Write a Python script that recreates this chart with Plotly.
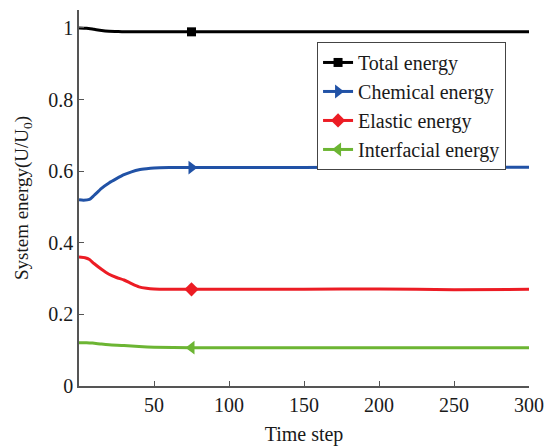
import plotly.graph_objects as go

# ---- data ----
total_x = [0, 5, 10, 15, 20, 25, 30, 40, 50, 75, 100, 150, 200, 250, 300]
total_y = [1.0, 0.999, 0.996, 0.993, 0.991, 0.990, 0.989, 0.989, 0.989, 0.989, 0.989, 0.989, 0.989, 0.989, 0.989]

chem_x = [0, 3, 7, 10, 15, 20, 25, 30, 35, 40, 45, 50, 60, 75, 100, 150, 200, 250, 275, 300]
chem_y = [0.52, 0.519, 0.521, 0.532, 0.552, 0.567, 0.579, 0.590, 0.598, 0.604, 0.607, 0.609, 0.610, 0.610,
          0.610, 0.610, 0.611, 0.609, 0.611, 0.611]

elas_x = [0, 4, 7, 10, 15, 20, 25, 30, 35, 40, 45, 50, 60, 75, 100, 150, 200, 250, 300]
elas_y = [0.36, 0.358, 0.353, 0.342, 0.326, 0.312, 0.303, 0.296, 0.286, 0.277, 0.273, 0.271, 0.270, 0.270,
          0.270, 0.270, 0.271, 0.269, 0.270]

intf_x = [0, 5, 9, 15, 20, 30, 40, 50, 75, 100, 150, 200, 250, 300]
intf_y = [0.121, 0.121, 0.120, 0.117, 0.115, 0.113, 0.110, 0.108, 0.107, 0.107, 0.107, 0.107, 0.107, 0.107]

names = ["Total energy", "Chemical energy", "Elastic energy", "Interfacial energy"]
marker_step = 75
x_ticks = [50, 100, 150, 200, 250, 300]
y_ticks = [0, 0.2, 0.4, 0.6, 0.8, 1]
y_tick_text = ["0", "0.2", "0.4", "0.6", "0.8", "1"]

series = [
    (total_x, total_y, "#000000", "square", 9),
    (chem_x, chem_y, "#2152a6", "triangle-right", 12),
    (elas_x, elas_y, "#ec1c24", "diamond", 11),
    (intf_x, intf_y, "#6cb533", "triangle-left", 12),
]

fig = go.Figure()
for name, (xs, ys, color, sym, ms) in zip(names, series):
    fig.add_trace(go.Scatter(x=xs, y=ys, mode="lines", line=dict(color=color, width=3, shape="spline", smoothing=0.6),
                             showlegend=False, hoverinfo="skip"))
    i = xs.index(marker_step)
    fig.add_trace(go.Scatter(x=[xs[i]], y=[ys[i]], mode="lines+markers", name=name,
                             line=dict(color=color, width=3),
                             marker=dict(symbol=sym, size=ms, color=color)))

font = "Liberation Serif"
fig.update_layout(
    width=544, height=446,
    margin=dict(l=79, r=15, t=10, b=60, autoexpand=False),
    paper_bgcolor="white", plot_bgcolor="white",
    font=dict(family=font, size=20, color="#1a1a1a"),
    legend=dict(x=0.529, y=0.915, xanchor="left", yanchor="top",
                bordercolor="#444", borderwidth=1, bgcolor="white",
                font=dict(family=font, size=20, color="#1a1a1a"),
                itemwidth=30, tracegroupgap=0, entrywidth=170, entrywidthmode="pixels"),
    xaxis=dict(range=[0, 300], tickvals=x_ticks, ticks="inside", ticklen=5, tickcolor="#555",
               showline=True, linecolor="#555", linewidth=1.5, showgrid=False, zeroline=False,
               automargin=False, tickfont=dict(family=font, size=20),
               title=dict(text="Time step", font=dict(family=font, size=20))),
    yaxis=dict(range=[0, 1.05], tickvals=y_ticks, ticktext=y_tick_text, ticks="inside", ticklen=5, tickcolor="#555",
               showline=True, linecolor="#555", linewidth=1.5, showgrid=False, zeroline=False,
               automargin=False, tickfont=dict(family=font, size=20),
               title=dict(text="System energy(U/U<sub>0</sub>)", font=dict(family=font, size=19))),
)

fig.write_html("out.html", config={"displayModeBar": False},
               post_script="document.body.style.margin='0px';")
